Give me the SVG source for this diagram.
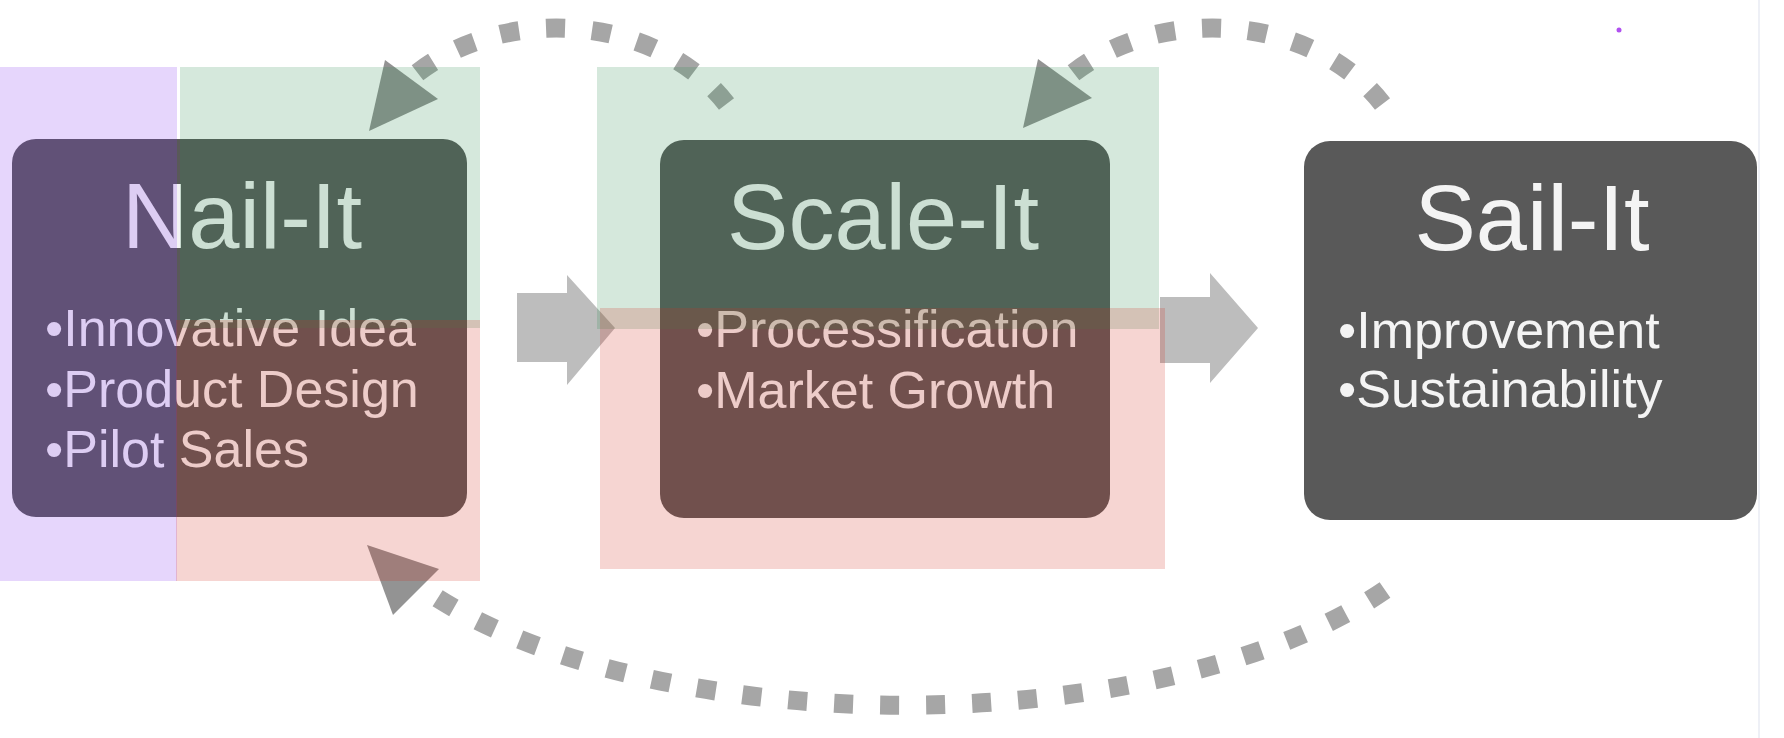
<svg xmlns="http://www.w3.org/2000/svg" width="1784" height="738" viewBox="0 0 1784 738">
<style>
.box{fill:#595959}
.title{font-family:"Liberation Sans",Arial,sans-serif;font-size:92px;fill:#f4f4f4;text-anchor:middle}
.item{font-family:"Liberation Sans",Arial,sans-serif;font-size:52px;fill:#f4f4f4}
.dash{fill:none;stroke:#a6a6a6;stroke-width:19;stroke-dasharray:19 27}
.head{fill:#939393}
.block{fill:#bdbdbd}
.hl{fill-opacity:0.2}
</style>
<rect width="1784" height="738" fill="#ffffff"/>
<line x1="1759" y1="0" x2="1759" y2="738" stroke="#eef0f6" stroke-width="2"/>
<circle cx="1619" cy="30" r="2.5" fill="#b050f0"/>
<g id="node-nail">
<rect class="box" x="12" y="139" width="455" height="378" rx="24"/>
<text class="title" x="242" y="248">Nail-It</text>
<text class="item" x="45" y="346">•Innovative Idea</text>
<text class="item" x="45" y="407">•Product Design</text>
<text class="item" x="45" y="467">•Pilot Sales</text>
</g>
<g id="node-scale">
<rect class="box" x="660" y="140" width="450" height="378" rx="24"/>
<text class="title" x="883" y="249">Scale-It</text>
<text class="item" x="696" y="347">•Processification</text>
<text class="item" x="696" y="408">•Market Growth</text>
</g>
<g id="node-sail">
<rect class="box" x="1304" y="141" width="453" height="379" rx="26"/>
<text class="title" x="1532" y="250">Sail-It</text>
<text class="item" x="1338" y="348">•Improvement</text>
<text class="item" x="1338" y="407">•Sustainability</text>
</g>
<g id="connectors">
<path class="block" d="M517,293 H567 V275 L615,328 L567,385 V362 H517 Z"/>
<path class="block" d="M1160,297 H1210 V273 L1258,328 L1210,383 V363 H1160 Z"/>
<path class="dash" d="M726.5,104 A200,160 0 0 0 411,78"/>
<polygon class="head" points="385,60 438,99 369,131"/>
<path class="dash" d="M1382.5,104 A200,160 0 0 0 1067,78"/>
<polygon class="head" points="1038,59 1092,98 1023,128"/>
<path class="dash" d="M1385,590 A570,250 0 0 1 425,590"/>
<polygon class="head" points="367,545 439,569 393,615"/>
</g>
<g id="highlights">
<rect class="hl" x="0" y="67" width="177" height="514" fill="rgb(130,50,240)"/>
<rect class="hl" x="180" y="67" width="300" height="261" fill="rgb(45,140,80)"/>
<rect class="hl" x="176" y="320" width="304" height="261" fill="rgb(210,45,30)"/>
<rect class="hl" x="597" y="67" width="562" height="262" fill="rgb(45,140,80)"/>
<rect class="hl" x="600" y="308" width="565" height="261" fill="rgb(210,45,30)"/>
</g>
</svg>
